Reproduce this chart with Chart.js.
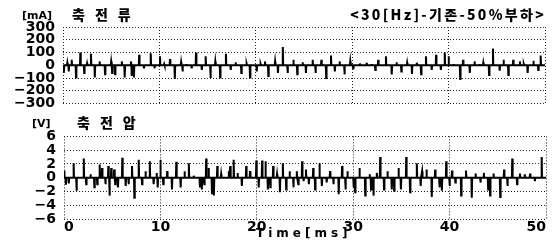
<!DOCTYPE html>
<html>
<head>
<meta charset="utf-8">
<script src="https://cdn.jsdelivr.net/npm/chart.js@4/dist/chart.umd.min.js"></script>
<style>
  body { margin: 0; background: #fff; }
  #wrap { position: relative; width: 555px; height: 242px; overflow: hidden; }
  canvas { position: absolute; left: 0; }
  .lbl { position: absolute; font-family: "DejaVu Sans", sans-serif; font-weight: bold; color: #000; line-height: 1; white-space: nowrap; }
  .kr { font-family: "Noto Sans CJK KR", sans-serif; font-weight: 900; }
</style>
</head>
<body>
<div id="wrap">
  <canvas id="top" width="555" height="120" style="top:0"></canvas>
  <canvas id="bot" width="555" height="122" style="top:120px"></canvas>
  <div class="lbl" style="left:22px;top:10px;font-size:11px">[mA]</div>
  <div class="lbl kr" style="left:72px;top:7px;font-size:14px;letter-spacing:10px">축전류</div>
  <div class="lbl kr" style="right:9px;top:7px;font-size:14px;letter-spacing:2.3px">&lt;30[Hz]-기존-50%부하&gt;</div>
  <div class="lbl" style="left:32px;top:118px;font-size:11px">[V]</div>
  <div class="lbl kr" style="left:77px;top:115px;font-size:14px;letter-spacing:10px">축전압</div>
  <div class="lbl" style="left:256px;top:227px;font-size:12px;letter-spacing:4px">Time[ms]</div>
</div>
<script>
// 축전류 [mA]: spike times (ms) and peak values
const iTime = [0.1, 0.45, 0.6, 0.9, 1.35, 1.8, 2.2, 2.5, 2.9, 3.3, 3.8, 4.36, 5.0, 5.1, 5.4, 6.1, 6.4, 7.05, 7.15, 7.36,
  7.9, 8.4, 9.1, 9.5, 10.06, 10.5, 11.1, 11.6, 12.25, 12.4, 12.8, 13.35, 13.8, 14.4, 14.8, 15.3, 15.8, 16.3, 16.9, 17.4,
  17.9, 18.5, 19.05, 19.4, 20.1, 20.5, 20.95, 21.3, 22.0, 22.3, 22.8, 23.3, 23.9, 24.3, 24.85, 25.2, 25.9, 26.2, 26.8, 27.3,
  27.8, 28.2, 28.7, 29.2, 29.8, 30.1, 30.8, 31.5, 32.0, 32.4, 32.7, 33.5, 34.1, 34.6, 35.1, 35.7, 36.2, 36.7, 37.15, 37.65,
  38.25, 38.7, 39.2, 39.6, 40.0, 40.5, 41.2, 41.5, 42.2, 42.7, 43.2, 43.6, 44.2, 44.6, 45.3, 45.7, 46.2, 46.7, 47.4, 47.8,
  48.2, 48.8, 49.3, 49.55];
const iValue = [-60, 20, -48, 43, -95, 100, -60, 15, 90, -95, 30, -70, 30, -60, -71, 30, -95, 30, -83, -95,
  83, -24, 95, -24, 71, 10, 48, -107, 24, -48, 10, -24, 100, -36, 71, -100, 30, -95, 90, -36,
  24, -60, 12, -95, -48, 10, 30, -83, 30, -60, 143, -60, 43, -71, 24, -60, 43, -60, 43, -100,
  76, -48, 30, -71, 30, -24, 15, 20, 10, -36, 43, 71, -71, 24, -48, 20, -67, 20, -71, 71,
  -36, 83, -36, 100, 71, 10, -107, 43, -60, 30, 10, 20, -76, 131, -43, 43, -76, 43, 30, 10,
  -60, 36, -36, 76];

// 축전압 [V]
const vTime = [0.05, 0.2, 0.5, 1.0, 1.3, 2.05, 2.3, 2.75, 3.15, 3.45, 3.7, 3.95, 4.3, 4.6, 4.72, 4.9, 5.2, 5.32, 5.6, 6.05,
  6.4, 6.7, 7.05, 7.3, 7.75, 8.1, 8.45, 8.9, 9.3, 9.6, 9.72, 10.0, 10.3, 10.7, 11.2, 11.65, 12.1, 12.5, 12.95, 13.45,
  14.1, 14.3, 14.55, 14.75, 15.0, 15.35, 15.55, 15.9, 16.3, 17.1, 17.25, 17.6, 18.0, 18.45, 18.9, 19.3, 19.95, 20.2, 20.55, 20.9,
  21.15, 21.4, 21.7, 22.1, 22.4, 22.7, 23.05, 23.4, 23.8, 24.15, 24.3, 24.7, 24.85, 25.1, 25.4, 25.85, 26.05, 26.5, 26.75, 27.25,
  27.6, 27.95, 28.5, 28.85, 29.2, 29.4, 30.05, 30.2, 30.65, 31.25, 31.7, 31.85, 32.1, 32.45, 32.8, 33.2, 33.55, 34.0, 34.25, 34.7,
  34.95, 35.5, 35.9, 36.6, 37.0, 37.15, 37.6, 38.15, 38.5, 38.95, 39.2, 39.65, 40.0, 40.25, 40.6, 41.2, 41.7, 42.3, 42.7, 43.2,
  43.55, 44.0, 44.2, 44.55, 45.25, 45.65, 46.0, 46.5, 47.0, 47.3, 47.8, 48.35, 48.85, 49.55];
const vValue = [1.0, -1.0, -0.85, 2.1, -1.9, 2.8, -0.95, 0.5, -1.4, -0.95, 1.9, 1.4, -0.95, 1.7, -2.6, 1.4, 1.2, -0.95, -1.4, 2.9,
  -1.2, -0.95, 1.7, -2.9, 2.6, -0.95, 0.95, 2.4, -0.95, 0.7, -1.4, 2.6, -0.95, 0.95, -1.7, 2.3, -1.4, 0.95, 2.1, 0.3,
  -1.4, -1.7, -0.95, 2.8, 1.4, -2.4, -2.6, 1.7, 0.5, 0.95, 1.7, 2.6, 0.7, -1.2, 1.7, 0.95, 2.5, -1.4, 2.5, 2.4,
  -1.7, -1.4, 1.7, 0.5, -2.1, 2.1, -1.7, 0.95, -1.4, 0.95, -0.95, 2.4, -0.5, 1.2, -0.95, 1.4, -1.7, 2.1, -1.2, -0.7,
  0.95, -0.95, -2.4, 1.7, -1.7, 0.95, -1.4, -2.1, 1.4, -2.6, 0.5, -1.7, -2.6, 0.7, 3.0, -1.7, 0.95, -1.7, -1.9, 1.4,
  -1.7, 3.0, -2.1, 2.1, -1.2, 0.95, 1.2, -2.8, 1.2, -1.4, -1.9, 2.4, -1.2, 1.05, -0.7, -2.6, 1.05, -2.9, 0.6, -0.7,
  0.7, -1.7, -2.6, 0.6, -2.8, 1.2, -1.2, 2.8, -0.95, 0.6, 0.5, 0.6, -0.5, 3.0];

const xTicks = [0, 10, 20, 30, 40, 50];
const iTicks = [-300, -200, -100, 0, 100, 200, 300];
const vTicks = [-6, -4, -2, 0, 2, 4, 6];

function trace(times, vals) {
  const pts = [{ x: 0, y: 0 }];
  times.forEach((t, i) => {
    pts.push({ x: t - 0.04, y: 0 }, { x: t, y: vals[i] }, { x: t + 0.04, y: 0 });
  });
  pts.push({ x: 50, y: 0 });
  return pts;
}

const tickFont = { family: 'DejaVu Sans', size: 14, weight: 'bold' };
const dotted = { color: '#222', lineWidth: 1, drawTicks: false };
const dots = { display: false, dash: [1, 2] };
const minus = v => String(v).replace('-', '\u2212');

function makeChart(id, data, yTicks, opts) {
  return new Chart(document.getElementById(id), {
    type: 'line',
    data: {
      datasets: [{
        data: data,
        borderColor: '#000',
        borderWidth: 2,
        pointRadius: 0,
        tension: 0
      }]
    },
    options: {
      responsive: false,
      animation: false,
      devicePixelRatio: 1,
      layout: { padding: opts.padding },
      plugins: { legend: { display: false }, tooltip: { enabled: false } },
      scales: {
        x: {
          type: 'linear', min: 0, max: 50,
          afterBuildTicks: s => { s.ticks = xTicks.map(v => ({ value: v })); },
          grid: dotted,
          border: dots,
          ticks: { display: opts.xLabels, color: '#000', font: { family: 'DejaVu Sans', size: 14, weight: 'bold' }, padding: 0, align: 'inner', maxRotation: 0 },
          afterFit: s => { s.height = opts.xHeight; }
        },
        y: {
          min: yTicks[0], max: yTicks[yTicks.length - 1],
          afterBuildTicks: s => { s.ticks = yTicks.map(v => ({ value: v })); },
          grid: dotted,
          border: dots,
          ticks: { color: '#000', font: tickFont, padding: 8, autoSkip: false, callback: minus },
          afterFit: s => { s.width = opts.yWidth; }
        }
      }
    }
  });
}

makeChart('top', trace(iTime, iValue), iTicks, {
  padding: { top: 27, right: 10, bottom: 11, left: 0 }, xLabels: false, xHeight: 0, yWidth: 63
});
makeChart('bot', trace(vTime, vValue), vTicks, {
  padding: { top: 14, right: 9, bottom: 0, left: 0 }, xLabels: true, xHeight: 23, yWidth: 64
});
</script>
</body>
</html>
